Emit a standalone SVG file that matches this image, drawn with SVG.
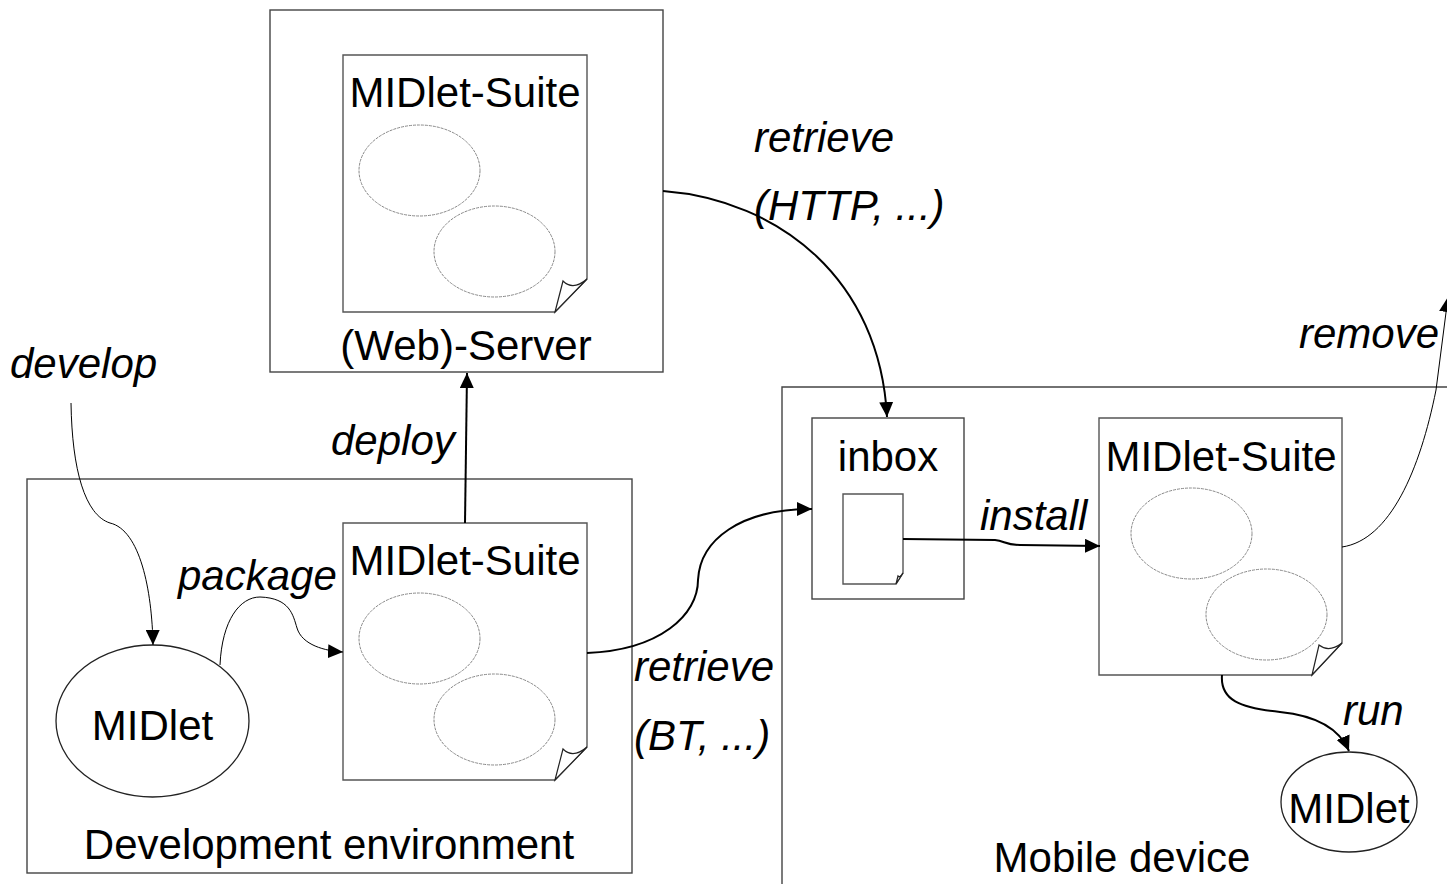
<svg xmlns="http://www.w3.org/2000/svg" width="1447" height="884" viewBox="0 0 1447 884">
<style>
.box{fill:#fff;stroke:#444;stroke-width:1.4}
.doc{fill:#fff;stroke:#555;stroke-width:1.4}
.fold{fill:#fff;stroke:#222;stroke-width:1.2}
.inner{fill:none;stroke:#888;stroke-width:1;stroke-dasharray:3 1}
.node{fill:#fff;stroke:#222;stroke-width:1.3}
.t{font-family:"Liberation Sans",Arial,sans-serif;font-size:42px;fill:#000}
.i{font-style:italic}
.m{text-anchor:middle}
.c1{fill:none;stroke:#000;stroke-width:1}
.c2{fill:none;stroke:#000;stroke-width:2}
</style>
<defs>
<marker id="ah" markerUnits="userSpaceOnUse" markerWidth="16" markerHeight="14" refX="15" refY="7" orient="auto" viewBox="0 0 16 14">
<path d="M0,0 L15,7 L0,14 Z" fill="#000"/>
</marker>
</defs>
<rect width="1447" height="884" fill="#fff"/>

<g id="webserver">
<rect class="box" x="270" y="10" width="393" height="362"/>
<text class="t m" x="466" y="360">(Web)-Server</text>
</g>
<g id="suite-web">
<path class="doc" d="M343,55 L587,55 L587,279 L555,312 L343,312 Z"/>
<path class="fold" d="M555,312 L563,281 Q573,291 587,279 Z"/>
<text class="t m" x="465" y="107">MIDlet-Suite</text>
<ellipse class="inner" cx="419.5" cy="170.5" rx="60.5" ry="45.5"/>
<ellipse class="inner" cx="494.5" cy="251.5" rx="60.5" ry="45.5"/>
</g>

<g id="devenv">
<rect class="box" x="27" y="479" width="605" height="394"/>
<text class="t m" x="329" y="859">Development environment</text>
</g>
<g id="midlet-dev">
<ellipse class="node" cx="152.5" cy="721" rx="96.5" ry="76"/>
<text class="t m" x="152.5" y="740">MIDlet</text>
</g>
<g id="suite-dev">
<path class="doc" d="M343,523 L587,523 L587,747 L555,780 L343,780 Z"/>
<path class="fold" d="M555,780 L563,749 Q573,759 587,747 Z"/>
<text class="t m" x="465" y="575">MIDlet-Suite</text>
<ellipse class="inner" cx="419.5" cy="638.5" rx="60.5" ry="45.5"/>
<ellipse class="inner" cx="494.5" cy="719.5" rx="60.5" ry="45.5"/>
</g>

<g id="mobile">
<path class="box" d="M1460,387 L782,387 L782,900" fill="none"/>
<text class="t m" x="1122" y="872">Mobile device</text>
</g>
<g id="inbox">
<rect class="box" x="812" y="418" width="152" height="181"/>
<text class="t m" x="888" y="471">inbox</text>
<path class="doc" d="M843,494 L903,494 L903,573 L896,584 L843,584 Z"/>
<path class="fold" d="M896,584 L898,576 Q900,578 903,573 Z"/>
</g>
<g id="suite-mobile">
<path class="doc" d="M1099,418 L1342,418 L1342,643 L1312,675 L1099,675 Z"/>
<path class="fold" d="M1312,675 L1319,645 Q1329,653 1342,643 Z"/>
<text class="t m" x="1221" y="471">MIDlet-Suite</text>
<ellipse class="inner" cx="1191.5" cy="533.5" rx="60.5" ry="45.5"/>
<ellipse class="inner" cx="1266.5" cy="614.5" rx="60.5" ry="45.5"/>
</g>
<g id="midlet-mobile">
<ellipse class="node" cx="1349" cy="802" rx="68" ry="50"/>
<text class="t m" x="1349" y="823">MIDlet</text>
</g>

<g id="connectors">
<path class="c1" d="M71,403 C72,470 85,515 110,523 C140,530 152,590 153,645" marker-end="url(#ah)"/>
<path class="c1" d="M220,665 C222,620 240,597 260,597 C290,598 293,615 297,628 C302,645 325,651 343,652" marker-end="url(#ah)"/>
<path class="c2" d="M465,523 L467,373" marker-end="url(#ah)"/>
<path class="c2" d="M663,191 C780,200 880,280 887,417" marker-end="url(#ah)"/>
<path class="c2" d="M587,653 C660,650 698,615 698,580 C700,540 740,509 812,509" marker-end="url(#ah)"/>
<path class="c2" d="M903,539 L995,540 C1005,541 1005,545 1020,545 L1100,546" marker-end="url(#ah)"/>
<path class="c1" d="M1342,547 C1390,540 1420,470 1436,390 L1448,297" marker-end="url(#ah)"/>
<path class="c2" d="M1222,675 C1220,700 1240,708 1280,712 C1320,716 1340,730 1349,751" marker-end="url(#ah)"/>
</g>

<g id="labels">
<text class="t i" x="10" y="378">develop</text>
<text class="t i" x="178" y="590">package</text>
<text class="t i" x="331" y="455">deploy</text>
<text class="t i" x="754" y="152">retrieve</text>
<text class="t i" x="754" y="220">(HTTP, ...)</text>
<text class="t i" x="634" y="681">retrieve</text>
<text class="t i" x="634" y="750">(BT, ...)</text>
<text class="t i" x="980" y="530">install</text>
<text class="t i" x="1299" y="348">remove</text>
<text class="t i" x="1343" y="725">run</text>
</g>
</svg>
